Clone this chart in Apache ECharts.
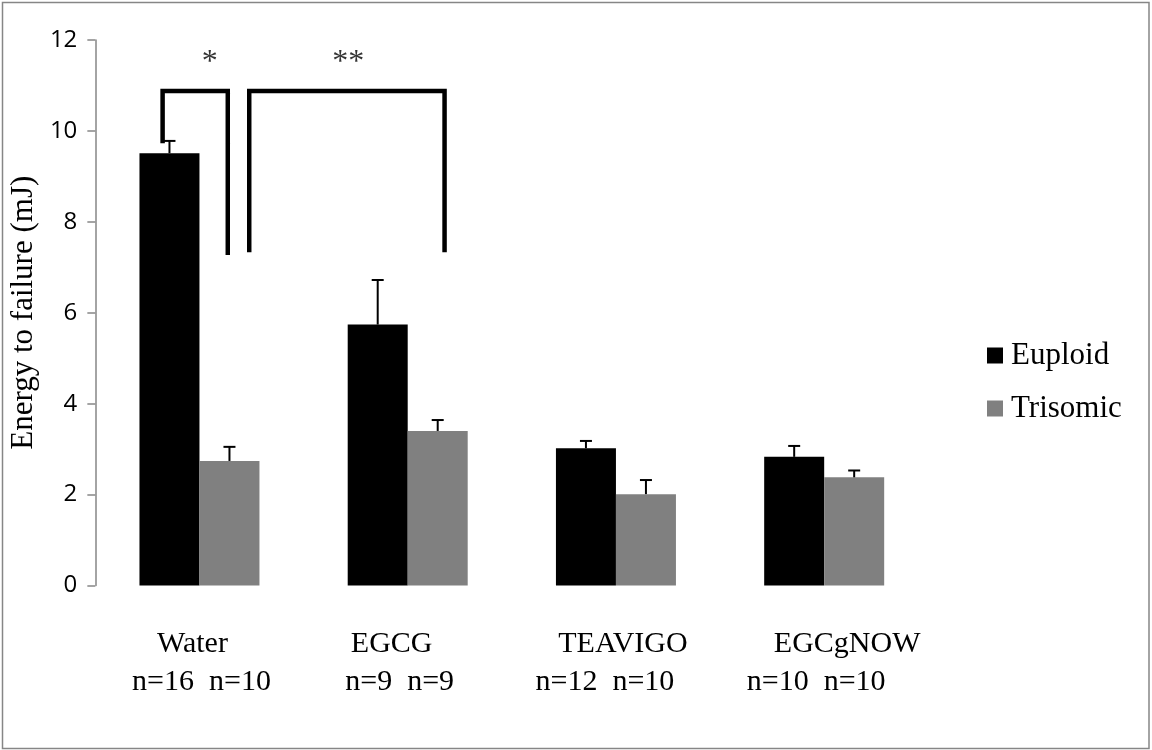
<!DOCTYPE html>
<html><head><meta charset="utf-8">
<script src="https://cdn.jsdelivr.net/npm/echarts@6/dist/echarts.min.js"></script>
<style>html,body{margin:0;padding:0;background:#fff}#c{width:1152px;height:750px}</style>
</head><body><div id="c"></div>
<script>
// ---- data ----
const categories = ['Water', 'EGCG', 'TEAVIGO', 'EGCgNOW'];
const sampleSizes = ['n=16  n=10', 'n=9  n=9', 'n=12  n=10', 'n=10  n=10'];
const seriesNames = ['Euploid', 'Trisomic'];
const euploid = [9.51, 5.74, 3.02, 2.83];
const trisomic = [2.74, 3.40, 2.01, 2.38];
const euploidErrTop = [9.78, 6.72, 3.18, 3.07];
const trisomicErrTop = [3.05, 3.64, 2.32, 2.53];
const yTicks = [0, 2, 4, 6, 8, 10, 12];
// significance brackets: [group position, value]
const bracketA = [[-0.177, 9.78], [-0.177, 10.88], [0.136, 10.88], [0.136, 7.32]];
const bracketB = [[0.239, 7.38], [0.239, 10.88], [1.177, 10.88], [1.177, 7.38]];
const stars = [[0.049, 11.5, '*'], [0.714, 11.5, '**']];

// ---- styles ----
const SERIF = "'Liberation Serif', 'Times New Roman', serif";
const labelShift = [[-7, 2], [-16, -8], [7, -11], [23, -8]];
function padFor(s) { return s > 0 ? [0, 0, 0, 2 * s] : [0, -2 * s, 0, 0]; }
const rich = {};
labelShift.forEach((sh, i) => {
  rich['a' + i] = { fontFamily: SERIF, fontSize: 30, color: '#000', lineHeight: 38, padding: padFor(sh[0]) };
  rich['b' + i] = { fontFamily: SERIF, fontSize: 30, color: '#000', lineHeight: 38, padding: padFor(sh[1]) };
});

function errRenderer(sign) {
  return function (params, api) {
    const i = api.value(0);
    const top = api.coord([i, api.value(1)]);
    const base = api.coord([i, api.value(2)]);
    const x = top[0] + sign * 30;
    const st = { stroke: '#000', lineWidth: 2 };
    return {
      type: 'group',
      children: [
        { type: 'line', shape: { x1: x, y1: base[1], x2: x, y2: top[1] }, style: st },
        { type: 'line', shape: { x1: x - 6, y1: top[1], x2: x + 6, y2: top[1] }, style: st }
      ]
    };
  };
}

const chart = echarts.init(document.getElementById('c'), null, { renderer: 'canvas' });
chart.setOption({
  animation: false,
  backgroundColor: '#fff',
  graphic: [{
    type: 'rect', silent: true, z: -1,
    shape: { x: 2.5, y: 2.5, width: 1146.5, height: 746 },
    style: { fill: 'none', stroke: '#868686', lineWidth: 1.5 }
  }],
  grid: { left: 86, right: 223.7, top: 40, bottom: 164.5, containLabel: false },
  legend: {
    data: seriesNames,
    orient: 'vertical', left: 982, top: 335,
    itemWidth: 16, itemHeight: 16, itemGap: 22,
    icon: 'rect',
    textStyle: { fontFamily: SERIF, fontSize: 31, color: '#000', lineHeight: 30, padding: [0, 0, 0, 3] }
  },
  xAxis: [{
    type: 'category', data: categories,
    axisLine: { show: false }, axisTick: { show: false },
    axisLabel: {
      margin: 40, interval: 0,
      formatter: (v, idx) => `{a${idx}|${v}}\n{b${idx}|${sampleSizes[idx]}}`,
      rich: rich
    }
  }, {
    type: 'value', min: -0.5, max: 3.5, show: false
  }],
  yAxis: {
    type: 'value', min: yTicks[0], max: yTicks[yTicks.length - 1], interval: 2,
    name: 'Energy to failure (mJ)', nameLocation: 'middle', nameGap: 36,
    nameTextStyle: { fontFamily: SERIF, fontSize: 31, color: '#000' },
    axisLine: { show: true, onZero: false, lineStyle: { color: '#868686', width: 1.5 } },
    axisTick: { show: true, length: 8, lineStyle: { color: '#868686', width: 1.5 } },
    axisLabel: { margin: 18, fontFamily: "'Open Sans', sans-serif", fontSize: 24, color: '#000' },
    splitLine: { show: false }
  },
  series: [
    { name: seriesNames[0], type: 'bar', data: euploid, barWidth: 60, barGap: '0%',
      itemStyle: { color: '#000' } },
    { name: seriesNames[1], type: 'bar', data: trisomic, barWidth: 60, barGap: '0%',
      itemStyle: { color: '#808080' } },
    { name: 'errE', type: 'custom', xAxisIndex: 0, renderItem: errRenderer(-1),
      data: euploidErrTop.map((v, i) => [i, v, euploid[i]]), encode: { x: 0, y: 1 }, z: 5 },
    { name: 'errT', type: 'custom', xAxisIndex: 0, renderItem: errRenderer(1),
      data: trisomicErrTop.map((v, i) => [i, v, trisomic[i]]), encode: { x: 0, y: 1 }, z: 5 },
    { name: 'bracketA', type: 'line', xAxisIndex: 1, data: bracketA, symbol: 'none',
      lineStyle: { color: '#000', width: 4.5, join: 'miter', cap: 'square' }, z: 6 },
    { name: 'bracketB', type: 'line', xAxisIndex: 1, data: bracketB, symbol: 'none',
      lineStyle: { color: '#000', width: 4.5, join: 'miter', cap: 'square' }, z: 6 },
    { name: 'stars', type: 'scatter', xAxisIndex: 1, data: stars, symbolSize: 1,
      itemStyle: { color: 'rgba(0,0,0,0)' },
      label: { show: true, position: 'inside', formatter: p => p.data[2],
        fontFamily: SERIF, fontSize: 32, color: '#000' } }
  ]
});
</script></body></html>
